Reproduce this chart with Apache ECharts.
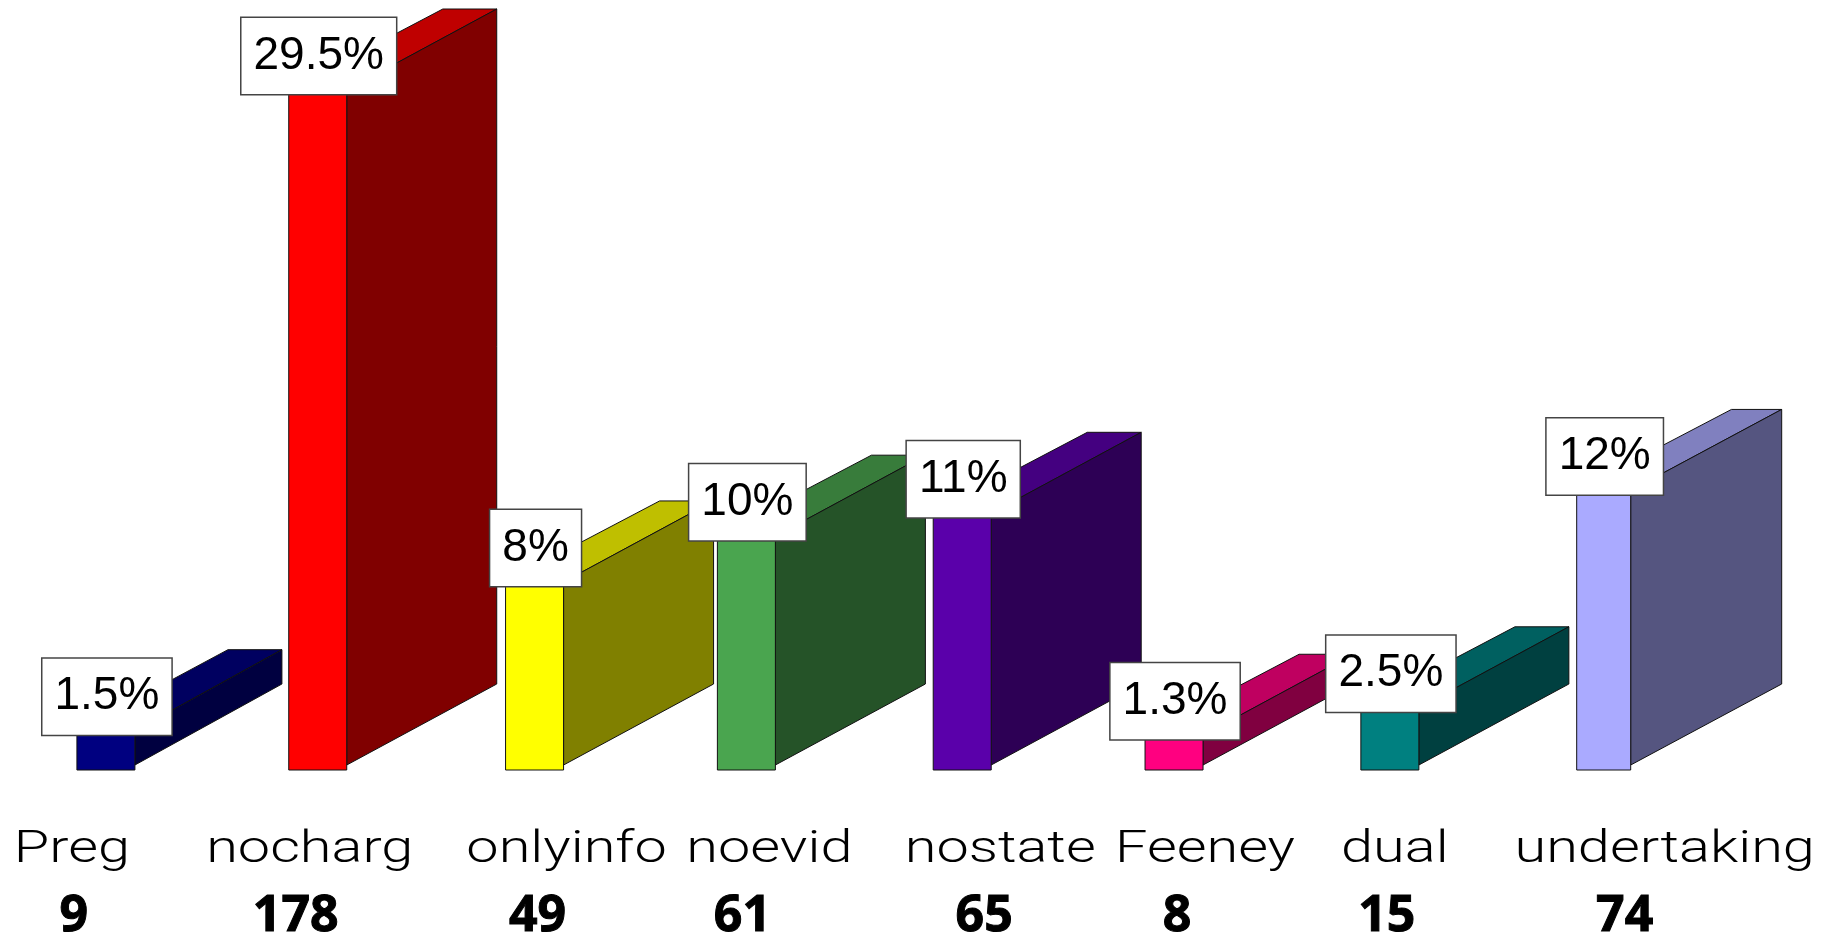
<!DOCTYPE html>
<html>
<head>
<meta charset="utf-8">
<title>Chart</title>
<script src="https://cdn.jsdelivr.net/npm/echarts@6/dist/echarts.min.js"></script>
<style>
  html, body { margin: 0; padding: 0; background: #fff; }
  #main { width: 1835px; height: 937px; }
</style>
</head>
<body>
<div id="main"></div>
<script>
const categories = ['Preg', 'nocharg', 'onlyinfo', 'noevid', 'nostate', 'Feeney', 'dual', 'undertaking'];
const counts = [9, 178, 49, 61, 65, 8, 15, 74];
const percents = [1.5, 29.5, 8, 10, 11, 1.3, 2.5, 12];
const percentLabels = ['1.5%', '29.5%', '8%', '10%', '11%', '1.3%', '2.5%', '12%'];
const frontColors = ['#000080', '#ff0000', '#ffff00', '#4aa54f', '#5a00aa', '#ff0080', '#008080', '#aaaaff'];

// hand placed things in the original slide, px from the band centre
const barShift = [-1, -3, 0, -2, 0, -2, 0, 0];
const barWidths = [58, 58, 58, 58, 58, 58, 58, 54];
const barDepths = [147, 150, 150, 150, 150, 150, 150, 151];
const nameShift = [-35, -11, 32, 21, 38, 29, 5, 61];
const countShift = [-33, -25, 3, -6, 22, 1, -3, 21];

const DEPTH_Y = 81;
const FOOT = 5;

function shade(hex, k) {
  const n = parseInt(hex.slice(1), 16);
  const c = [(n >> 16) & 255, (n >> 8) & 255, n & 255].map(v => Math.round(v * k));
  return 'rgb(' + c.join(',') + ')';
}

function renderBar(params, api) {
  const i = params.dataIndex;
  const top = api.coord([api.value(0), api.value(1)]);
  const base = api.coord([api.value(0), 0]);
  const w = barWidths[i];
  const x0 = top[0] + barShift[i] - w / 2;
  const x1 = x0 + w;
  const bx = x1 + barDepths[i];
  const line = { stroke: '#111', lineWidth: 1 };
  return {
    type: 'group',
    children: [
      {
        type: 'polygon',
        shape: { points: [[x0, top[1]], [x1, top[1]], [bx, top[1] - DEPTH_Y], [bx - w * 0.93, top[1] - DEPTH_Y]] },
        style: Object.assign({ fill: shade(frontColors[i], 0.75) }, line)
      },
      {
        type: 'polygon',
        shape: { points: [[x1, top[1]], [bx, top[1] - DEPTH_Y], [bx, base[1] - DEPTH_Y], [x1, base[1]]] },
        style: Object.assign({ fill: shade(frontColors[i], 0.5) }, line)
      },
      {
        type: 'rect',
        shape: { x: x0, y: top[1], width: w, height: base[1] + FOOT - top[1] },
        style: Object.assign({ fill: frontColors[i] }, line)
      }
    ]
  };
}

function renderBox(params, api) {
  const i = params.dataIndex;
  const top = api.coord([api.value(0), api.value(1)]);
  return {
    type: 'text',
    x: top[0] + barShift[i] + 1,
    y: top[1] - 34,
    style: {
      text: percentLabels[i],
      font: '46px "Liberation Sans", Arial, sans-serif',
      fill: '#000',
      align: 'center',
      verticalAlign: 'middle',
      backgroundColor: '#fff',
      borderColor: '#444',
      borderWidth: 1.5,
      padding: [17, 12, 13, 12]
    }
  };
}

function renderNames(params, api) {
  const i = params.dataIndex;
  const base = api.coord([api.value(0), 0]);
  return {
    type: 'group',
    children: [
      {
        type: 'text',
        x: base[0] + nameShift[i],
        y: 829,
        scaleX: 1.31,
        style: {
          text: categories[i],
          font: '300 44px Roboto, "Liberation Sans", sans-serif',
          fill: '#000',
          align: 'center',
          verticalAlign: 'top'
        }
      },
      {
        type: 'text',
        x: base[0] + countShift[i],
        y: 892,
        style: {
          text: String(counts[i]),
          font: 'bold 50px "Noto Sans", sans-serif',
          fill: '#000',
          stroke: '#000',
          lineWidth: 1,
          align: 'center',
          verticalAlign: 'top'
        }
      }
    ]
  };
}

const chart = echarts.init(document.getElementById('main'));
const seriesData = percents.map((v, i) => [i, v]);

chart.setOption({
  animation: false,
  backgroundColor: '#fff',
  grid: { left: -3, right: 124.4, top: 90, bottom: 172 },
  xAxis: { type: 'category', data: categories, show: false },
  yAxis: { type: 'value', min: 0, max: 29.5, show: false },
  series: [
    { type: 'custom', name: 'bars', data: seriesData, renderItem: renderBar, clip: false, z: 2, silent: true },
    { type: 'custom', name: 'percent', data: seriesData, renderItem: renderBox, clip: false, z: 3, silent: true },
    { type: 'custom', name: 'names', data: seriesData, renderItem: renderNames, clip: false, z: 3, silent: true }
  ]
});
</script>
</body>
</html>
